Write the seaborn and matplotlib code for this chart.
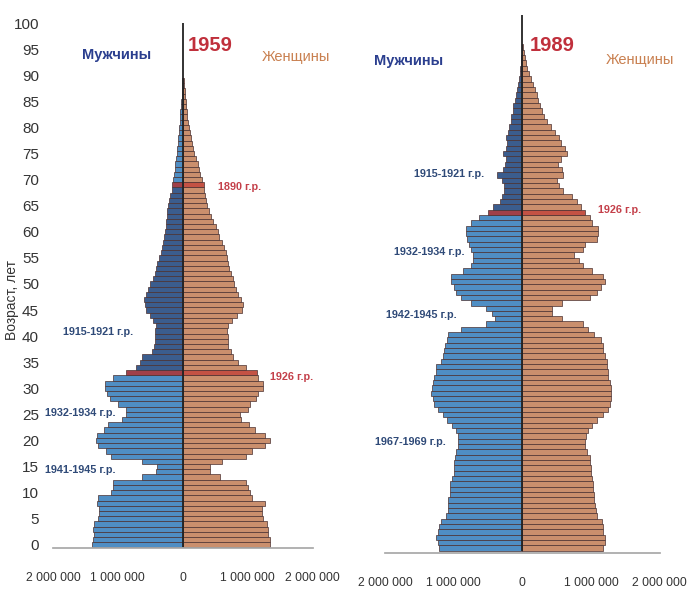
import numpy as np
import pandas as pd
import matplotlib
matplotlib.use("Agg")
import matplotlib.pyplot as plt
import seaborn as sns
from matplotlib.ticker import FuncFormatter

# population by single year of age, thousands
men_1959 = [1400, 1380, 1370, 1380, 1370, 1300, 1290, 1290, 1320, 1300,
            1100, 1080, 1080, 620, 410, 400, 620, 1100, 1180, 1300,
            1340, 1320, 1220, 1150, 930, 870, 880, 1000, 1120, 1160,
            1190, 1190, 1080, 880, 720, 660, 620, 470, 440, 430,
            430, 420, 410, 460, 510, 560, 580, 590, 560, 540,
            500, 460, 430, 410, 390, 360, 340, 320, 300, 290,
            270, 260, 255, 245, 235, 220, 205, 190, 170, 160,
            150, 140, 125, 115, 105, 95, 88, 80, 70, 62,
            55, 48, 40, 35, 28, 22, 16, 12, 8, 5]
women_1959 = [1340, 1340, 1320, 1320, 1300, 1230, 1220, 1220, 1260, 1070,
              1030, 1000, 980, 570, 420, 420, 600, 980, 1070, 1270,
              1350, 1270, 1120, 1020, 900, 880, 1000, 1040, 1130, 1160,
              1230, 1230, 1160, 1150, 980, 850, 770, 740, 700, 700,
              690, 680, 700, 760, 840, 910, 930, 900, 850, 820,
              790, 780, 740, 720, 700, 680, 660, 630, 600, 560,
              540, 510, 470, 440, 410, 380, 360, 340, 330, 320,
              290, 270, 250, 230, 210, 180, 160, 140, 125, 110,
              95, 82, 70, 60, 52, 45, 38, 30, 22, 15]

men_1989 = [1210, 1230, 1260, 1230, 1210, 1180, 1110, 1080, 1080, 1080,
            1060, 1060, 1050, 1030, 1000, 1000, 990, 980, 960, 940,
            930, 940, 960, 1030, 1100, 1150, 1230, 1280, 1300, 1330,
            1310, 1300, 1280, 1260, 1260, 1180, 1150, 1140, 1130, 1100,
            1080, 890, 530, 390, 440, 530, 750, 890, 960, 1000,
            1040, 1040, 870, 750, 720, 720, 750, 770, 800, 820,
            820, 750, 630, 500, 430, 330, 290, 270, 260, 300,
            370, 280, 250, 240, 280, 240, 220, 230, 210, 190,
            170, 160, 140, 130, 110, 90, 70, 55, 45, 35,
            28, 20, 15, 10, 6]
women_1989 = [1180, 1200, 1210, 1180, 1180, 1160, 1090, 1080, 1060, 1050,
              1040, 1030, 1030, 1020, 1000, 1000, 990, 980, 940, 920,
              920, 930, 960, 1020, 1090, 1180, 1250, 1280, 1290, 1300,
              1290, 1280, 1250, 1250, 1240, 1230, 1200, 1180, 1180, 1150,
              1040, 960, 890, 580, 440, 440, 580, 990, 1090, 1150,
              1210, 1180, 1020, 890, 820, 750, 890, 920, 1090, 1110,
              1110, 1020, 990, 920, 850, 800, 720, 600, 540, 510,
              600, 580, 520, 560, 650, 620, 560, 530, 470, 420,
              360, 320, 290, 260, 230, 210, 190, 160, 130, 100,
              70, 50, 35, 25, 15]

red_1959 = [33, 69]       # 1926 and 1890 birth cohorts
dark_1959 = (34, 68)      # men born 1891-1925
red_1989 = [63]
dark_1989 = (64, 200)

# label, left edge (millions), age, colour
notes_1959 = [("1890 г.р.", 0.54, 68.6, "#c4404a"),
              ("1926 г.р.", 1.34, 32.2, "#c4404a"),
              ("1915-1921 г.р.", -1.85, 40.8, "#2f4a78"),
              ("1932-1934 г.р.", -2.12, 25.3, "#2f4a78"),
              ("1941-1945 г.р.", -2.12, 14.4, "#2f4a78")]
notes_1989 = [("1915-1921 г.р.", -1.58, 70.2, "#2f4a78"),
              ("1926 г.р.", 1.11, 63.4, "#c4404a"),
              ("1932-1934 г.р.", -1.87, 55.5, "#2f4a78"),
              ("1942-1945 г.р.", -1.98, 43.7, "#2f4a78"),
              ("1967-1969 г.р.", -2.15, 19.9, "#2f4a78")]

palette = {"m": "#3b8fd8", "m_dark": "#2d5a9c", "m_red": "#b0303c",
           "f": "#d98b5e", "f_red": "#d9412f"}

sns.set_theme(style="white")
plt.rcParams["font.family"] = ["Liberation Sans", "DejaVu Sans"]


def make_frame(men, women, red, dark):
    rows = []
    for age, v in enumerate(men):
        if age in red:
            g = "m_red"
        elif dark[0] <= age <= dark[1]:
            g = "m_dark"
        else:
            g = "m"
        rows.append((age, -v * 1000, g))
    for age, v in enumerate(women):
        rows.append((age, v * 1000, "f_red" if age in red else "f"))
    return pd.DataFrame(rows, columns=["age", "pop", "group"])


def draw(ax, df, year, notes, yl, head):
    sns.barplot(data=df, x="pop", y="age", hue="group", palette=palette,
                orient="h", native_scale=True, width=1.0, dodge=False,
                errorbar=None, legend=False, edgecolor="#4a3030",
                linewidth=0.5, ax=ax)
    ax.vlines(0, -0.5, 100, color="#222222", linewidth=1.3)
    ax.set_xlim(-2000000, 2000000)
    ax.set_ylim(*yl)
    ax.set_xticks([-2000000, -1000000, 0, 1000000, 2000000])
    ax.xaxis.set_major_formatter(FuncFormatter(
        lambda v, p: f"{abs(int(v)):,}".replace(",", " ")))
    for s in ["top", "right", "left"]:
        ax.spines[s].set_visible(False)
    ax.spines["bottom"].set_color("#a8a8a8")
    ax.tick_params(axis="x", direction="in", length=5, color="#a8a8a8",
                   labelsize=8.8, labelcolor="#333333", pad=17)
    ax.set_xlabel("")
    ax.set_ylabel("")
    (mx, my), (yx, yy), (wx, wy) = head
    ax.text(mx * 1e6, my, "Мужчины", color="#2b3f8f", fontsize=10.5,
            fontweight="bold", ha="center", va="center")
    ax.text(yx * 1e6, yy, str(year), color="#c0303c", fontsize=14.5,
            fontweight="bold", ha="center", va="center")
    ax.text(wx * 1e6, wy, "Женщины", color="#c98050", fontsize=10.5,
            ha="center", va="center")
    for label, x, y, c in notes:
        ax.text(x * 1e6, y, label, color=c, fontsize=7.8, fontweight="bold",
                ha="left", va="center")


fig = plt.figure(figsize=(6.87, 5.89), dpi=100)
ax1 = fig.add_axes([0.077, 0.0696, 0.378, 0.900])
ax2 = fig.add_axes([0.5604, 0.0611, 0.3996, 0.9224])

draw(ax1, make_frame(men_1959, women_1959, red_1959, dark_1959), 1959,
     notes_1959, (-0.6, 101), ((-1.02, 93.9), (0.42, 95.8), (1.74, 93.5)))
ax1.set_yticks(np.arange(0, 101, 5))
ax1.tick_params(axis="y", length=0, labelsize=11, labelcolor="#333333", pad=10)
fig.text(12 / 687, 1 - 300 / 589, "Возраст, лет", rotation=90, fontsize=10,
         color="#333333", ha="center", va="center")

draw(ax2, make_frame(men_1989, women_1989, red_1989, dark_1989), 1989,
     notes_1989, (-0.94, 101), ((-1.65, 91.3), (0.43, 94.2), (1.72, 91.5)))
ax2.set_yticks([])

fig.savefig("out.png", dpi=100, facecolor="white")
